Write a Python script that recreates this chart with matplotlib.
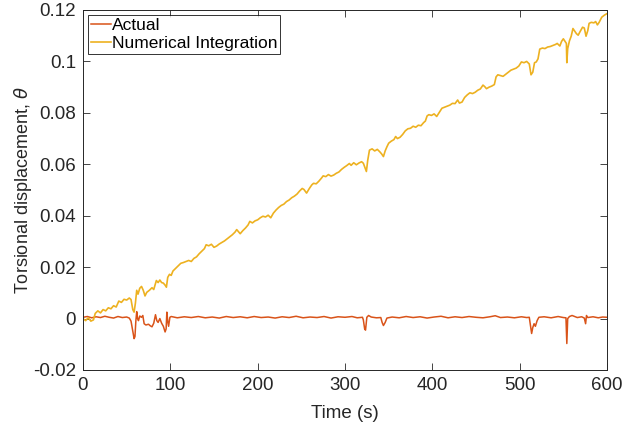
import matplotlib
matplotlib.use("Agg")
import matplotlib.pyplot as plt
from matplotlib.ticker import FuncFormatter

# ---- data ----
actual_t = [0, 5, 10, 15, 20, 25, 30, 35, 40, 45, 50, 53, 55, 57, 58.5, 59.5, 60.5, 61.5, 62.5, 63.5,
            65, 67, 68.5, 70, 72, 75, 77, 79, 81, 83, 84.5, 86, 88, 90, 92, 94, 95.2, 96, 97, 98, 99.5,
            101, 108, 116, 124, 132, 140, 148, 156, 164, 172, 180, 188, 196, 204, 212, 220, 228, 236,
            244, 252, 260, 268, 276, 284, 292, 300, 308, 314, 320, 321, 322.5, 323.5, 325, 327, 330,
            336, 341, 342.5, 344, 346, 348, 354, 362, 370, 378, 386, 394, 402, 410, 418, 426, 434,
            442, 450, 458, 466, 472, 478, 486, 494, 502, 508, 511, 512.5, 513.7, 515, 516.5, 518, 520,
            522, 528, 536, 544, 550, 553, 554, 555, 557, 560, 566, 571, 574, 575.5, 576.5, 578, 584,
            590, 595, 600]
actual_y = [0.0005, 0.0008, 0.0003, 0.0007, 0.0004, 0.0009, 0.0005, 0.0002, 0.0008, 0.0004, 0.0006,
            0.0002, -0.0010, -0.0050, -0.0078, -0.0070, -0.0010, 0.0027, 0.0000, -0.0008,
            0.0010, 0.0005, 0.0012, -0.0020, -0.0025, -0.0022, -0.0028, -0.0032, -0.0018, 0.0015,
            -0.0008, -0.0015, 0.0000, -0.0018, -0.0030, -0.0052, -0.0040, 0.0025, -0.0010, -0.0030,
            0.0005, 0.0008, 0.0003, 0.0007, 0.0004, 0.0008, 0.0003, 0.0006, 0.0002, 0.0008, 0.0004,
            0.0007, 0.0003, 0.0008, 0.0004, 0.0006, 0.0002, 0.0007, 0.0004, 0.0009, 0.0003, 0.0006,
            0.0004, 0.0008, 0.0002, 0.0007, 0.0005, 0.0008, 0.0003, 0.0005, -0.0005, -0.0040,
            -0.0045, 0.0005, 0.0012, 0.0006, 0.0003, 0.0004, -0.0015, -0.0027, -0.0015, 0.0002,
            0.0006, 0.0003, 0.0008, 0.0004, 0.0007, 0.0002, 0.0006, 0.0009, 0.0003, 0.0007, 0.0004,
            0.0008, 0.0005, 0.0003, 0.0007, 0.0011, 0.0004, 0.0006, 0.0003, 0.0007, 0.0004, 0.0005,
            -0.0030, -0.0058, -0.0035, -0.0020, -0.0030, -0.0008, 0.0005, 0.0007, 0.0003, 0.0008,
            0.0004, 0.0003, -0.0097, 0.0000, 0.0008, 0.0012, 0.0004, 0.0007, 0.0002, -0.0020,
            0.0012, 0.0004, 0.0007, 0.0003, 0.0006, 0.0005]

numint_t = [0, 3, 6, 9, 12, 14, 17, 20, 23, 26, 29, 32, 35, 38, 41, 44, 47, 50, 53, 55, 57, 58.5, 60,
            61.5, 63, 65, 67, 69, 71, 73, 76, 79, 81, 84, 86, 88, 90, 92, 94, 95.5, 97, 99, 101, 103,
            106, 109, 112, 115, 118, 121, 124, 127, 130, 133, 136, 139, 141, 144, 147, 150, 153, 156,
            159, 162, 165, 168, 171, 174, 176, 178, 180, 183, 186, 189, 191, 194, 197, 200, 203, 206,
            209, 212, 215, 218, 221, 224, 227, 230, 233, 236, 239, 242, 245, 248, 251, 253, 256, 259,
            262, 264, 267, 270, 273, 275, 278, 281, 284, 287, 290, 293, 296, 299, 302, 305, 307, 310,
            313, 316, 319, 321, 323, 324.5, 326, 328, 331, 334, 337, 340, 342, 344, 346, 348, 350,
            353, 356, 358, 360, 363, 366, 369, 372, 375, 378, 381, 384, 387, 390, 392, 394, 396, 399,
            402, 405, 408, 411, 414, 417, 420, 423, 426, 429, 431, 434, 437, 440, 443, 446, 449, 452,
            455, 458, 460, 462, 465, 468, 471, 473, 475, 478, 481, 484, 487, 490, 493, 496, 499, 502,
            505, 508, 511, 513, 515, 517, 519, 521, 523, 526, 529, 532, 535, 538, 541, 543, 546, 548,
            550, 552, 553.5, 554, 555, 557, 559, 561, 563, 565, 567, 569, 572, 574, 576, 578, 579.5,
            582, 585, 587, 589, 591, 594, 597, 600]
numint_y = [0.0000, -0.0008, 0.0003, -0.0010, -0.0005, 0.0020, 0.0030, 0.0022, 0.0035, 0.0030,
            0.0042, 0.0038, 0.0050, 0.0045, 0.0068, 0.0063, 0.0075, 0.0072, 0.0080, 0.0074, 0.0035,
            0.0025, 0.0060, 0.0110, 0.0095, 0.0118, 0.0125, 0.0110, 0.0088, 0.0102, 0.0110, 0.0120,
            0.0113, 0.0148, 0.0140, 0.0150, 0.0140, 0.0138, 0.0130, 0.0122, 0.0160, 0.0172, 0.0168,
            0.0185, 0.0195, 0.0205, 0.0215, 0.0218, 0.0222, 0.0226, 0.0222, 0.0234, 0.0240, 0.0252,
            0.0262, 0.0272, 0.0287, 0.0283, 0.0289, 0.0277, 0.0282, 0.0290, 0.0296, 0.0302, 0.0310,
            0.0318, 0.0326, 0.0336, 0.0346, 0.0338, 0.0330, 0.0342, 0.0352, 0.0364, 0.0378, 0.0372,
            0.0380, 0.0384, 0.0392, 0.0398, 0.0395, 0.0402, 0.0392, 0.0410, 0.0422, 0.0432, 0.0440,
            0.0445, 0.0455, 0.0461, 0.0470, 0.0476, 0.0484, 0.0496, 0.0506, 0.0502, 0.0488, 0.0505,
            0.0520, 0.0526, 0.0524, 0.0534, 0.0546, 0.0555, 0.0552, 0.0560, 0.0554, 0.0558, 0.0565,
            0.0570, 0.0580, 0.0588, 0.0595, 0.0603, 0.0596, 0.0606, 0.0598, 0.0605, 0.0610, 0.0604,
            0.0585, 0.0572, 0.0615, 0.0655, 0.0660, 0.0652, 0.0658, 0.0648, 0.0640, 0.0630, 0.0652,
            0.0668, 0.0682, 0.0690, 0.0696, 0.0708, 0.0700, 0.0705, 0.0716, 0.0730, 0.0738, 0.0740,
            0.0748, 0.0744, 0.0752, 0.0750, 0.0762, 0.0768, 0.0788, 0.0793, 0.0790, 0.0796, 0.0786,
            0.0802, 0.0818, 0.0822, 0.0826, 0.0830, 0.0837, 0.0836, 0.0850, 0.0838, 0.0842, 0.0860,
            0.0870, 0.0878, 0.0875, 0.0880, 0.0888, 0.0893, 0.0908, 0.0902, 0.0894, 0.0900, 0.0904,
            0.0910, 0.0940, 0.0948, 0.0945, 0.0942, 0.0950, 0.0958, 0.0966, 0.0970, 0.0974, 0.0982,
            0.0998, 0.0995, 0.1000, 0.0990, 0.0948, 0.0958, 0.0995, 0.0998, 0.1010, 0.1048, 0.1052,
            0.1050, 0.1056, 0.1058, 0.1062, 0.1066, 0.1070, 0.1060, 0.1078, 0.1088, 0.1078, 0.1070,
            0.0995, 0.1050, 0.1080, 0.1098, 0.1128, 0.1118, 0.1108, 0.1102, 0.1115, 0.1133, 0.1130,
            0.1098, 0.1120, 0.1148, 0.1152, 0.1150, 0.1155, 0.1142, 0.1152, 0.1172, 0.1180, 0.1186]

series_labels = ["Actual", "Numerical Integration"]
x_ticks = [0, 100, 200, 300, 400, 500, 600]
y_ticks = [-0.02, 0, 0.02, 0.04, 0.06, 0.08, 0.1, 0.12]

# ---- plotting ----
plt.rcParams['font.family'] = ['Liberation Sans', 'DejaVu Sans']
plt.rcParams['axes.unicode_minus'] = False
plt.rcParams['mathtext.fontset'] = 'dejavusans'

fig = plt.figure(figsize=(6.23, 4.28), dpi=100)
ax = fig.add_axes([83/623, 1 - 370/428, 524/623, 360/428])

dark = '#262626'
ax.plot(actual_t, actual_y, color='#D95319', lw=1.1, label=series_labels[0])
ax.plot(numint_t, numint_y, color='#EDB120', lw=1.2, label=series_labels[1])

ax.set_xlim(0, 600)
ax.set_ylim(-0.02, 0.12)
ax.set_xticks(x_ticks)
ax.set_yticks(y_ticks)
ax.yaxis.set_major_formatter(FuncFormatter(lambda v, p: f"{v:g}" if abs(v) > 1e-12 else "0"))

ax.tick_params(direction='in', top=True, right=True, length=5, width=0.6,
               colors=dark, labelsize=13.5, pad=5)
for s in ax.spines.values():
    s.set_color(dark)
    s.set_linewidth(0.7)

ax.set_xlabel("Time (s)", fontsize=13.5, color=dark, labelpad=8)
ax.set_ylabel(r"Torsional displacement, $\theta$", fontsize=13, color=dark, labelpad=-1)

leg = ax.legend(loc='upper left', fontsize=12.5, frameon=True, fancybox=False,
                edgecolor='black', borderpad=0.15, labelspacing=0.2,
                handlelength=1.15, handletextpad=0.1, borderaxespad=0.29)
leg.get_frame().set_linewidth(0.7)
for t in leg.get_texts():
    t.set_color('black')

fig.savefig("out.png", dpi=100)
